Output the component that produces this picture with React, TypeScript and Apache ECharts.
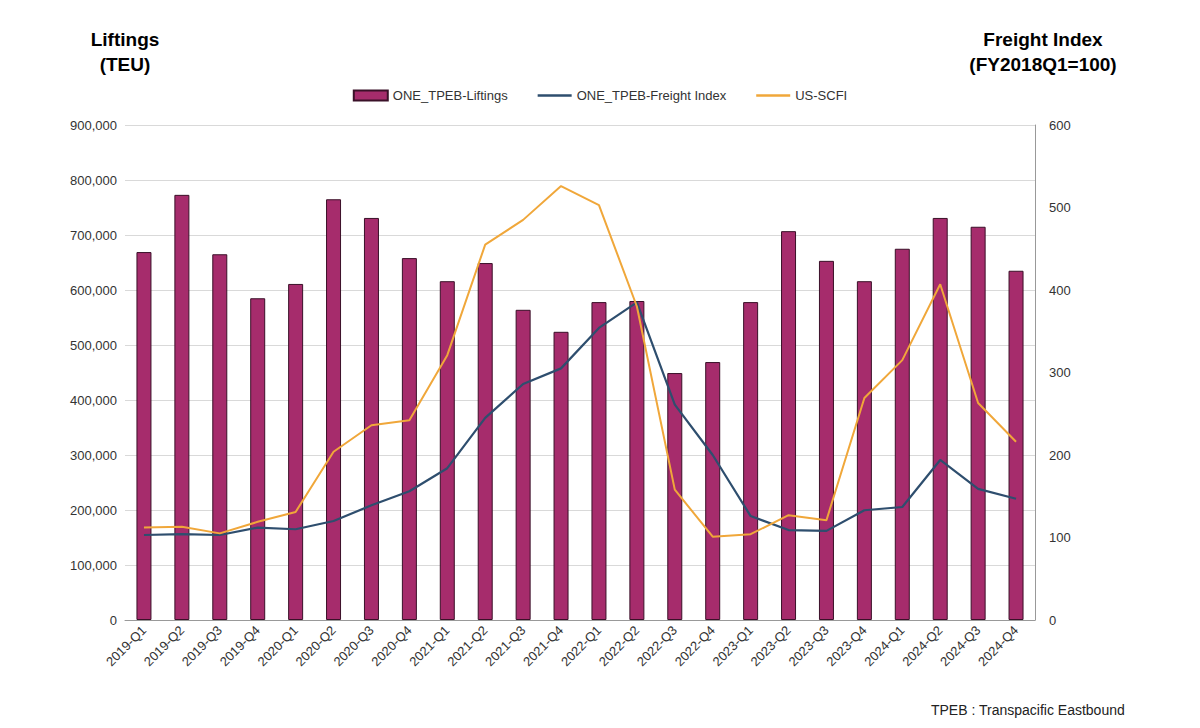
import React, { useEffect, useRef } from 'react';
import * as echarts from 'echarts';

const quarters = [
  '2019-Q1', '2019-Q2', '2019-Q3', '2019-Q4', '2020-Q1', '2020-Q2', '2020-Q3', '2020-Q4',
  '2021-Q1', '2021-Q2', '2021-Q3', '2021-Q4', '2022-Q1', '2022-Q2', '2022-Q3', '2022-Q4',
  '2023-Q1', '2023-Q2', '2023-Q3', '2023-Q4', '2024-Q1', '2024-Q2', '2024-Q3', '2024-Q4',
];
const liftings = [
  669000, 773000, 665000, 585000, 611000, 765000, 731000, 658000,
  616000, 649000, 564000, 524000, 578000, 580000, 449000, 469000,
  578000, 707000, 653000, 616000, 675000, 731000, 715000, 635000,
];
const freightIndex = [
  103, 104, 103, 112, 110, 120, 139, 156, 184, 245, 286, 305,
  354, 385, 261, 200, 126, 109, 108, 133, 137, 194, 159, 147,
];
const scfi = [
  112, 113, 105, 119, 131, 204, 236, 242, 321, 455, 485, 526,
  503, 380, 158, 101, 104, 127, 121, 269, 315, 407, 263, 216,
];

const font = 'Arial, "Liberation Sans", sans-serif';
const lineIcon = 'path://M0,0H40V3H0Z';

export default function App() {
  const ref = useRef<HTMLDivElement>(null);

  useEffect(() => {
    if (!ref.current) return;
    const chart = echarts.init(ref.current, null, { renderer: 'svg' });
    chart.setOption({
      animation: false,
      backgroundColor: '#fff',
      textStyle: { fontFamily: font },
      title: [
        { text: 'Liftings\n(TEU)', left: 120, top: 22, textAlign: 'center',
          textStyle: { fontSize: 19, fontWeight: 'bold', color: '#000', lineHeight: 25 } },
        { text: 'Freight Index\n(FY2018Q1=100)', left: 1038, top: 22, textAlign: 'center',
          textStyle: { fontSize: 19, fontWeight: 'bold', color: '#000', lineHeight: 25 } },
        { text: 'TPEB : Transpacific Eastbound', right: 70, bottom: 6,
          textStyle: { fontSize: 14, fontWeight: 'normal', color: '#222' } },
      ],
      legend: {
        top: 84, left: 'center', itemGap: 30, itemWidth: 34, itemHeight: 10,
        textStyle: { fontSize: 13, color: '#333' },
        data: [
          { name: 'ONE_TPEB-Liftings', icon: 'rect' },
          { name: 'ONE_TPEB-Freight Index', icon: lineIcon, itemStyle: { color: '#2e4e6e' } },
          { name: 'US-SCFI', icon: lineIcon, itemStyle: { color: '#f0a73a' } },
        ],
      },
      grid: { left: 125, right: 165, top: 125, bottom: 108 },
      xAxis: {
        type: 'category', data: quarters,
        axisLine: { lineStyle: { color: '#999' } },
        axisTick: { show: false },
        axisLabel: { rotate: 45, fontSize: 13, color: '#333', interval: 0, margin: 8 },
      },
      yAxis: [
        {
          type: 'value', min: 0, max: 900000, interval: 100000,
          axisLabel: { fontSize: 13, color: '#333', formatter: (v: number) => v.toLocaleString('en-US') },
          splitLine: { lineStyle: { color: '#d9d9d9' } },
          axisLine: { show: false },
        },
        {
          type: 'value', min: 0, max: 600, interval: 100, position: 'right',
          axisLabel: { fontSize: 13, color: '#333', margin: 14 },
          splitLine: { show: false },
          axisLine: { show: true, lineStyle: { color: '#999' } },
        },
      ],
      series: [
        {
          name: 'ONE_TPEB-Liftings', type: 'bar', data: liftings, barWidth: 15,
          itemStyle: { color: '#a62c6c', borderColor: '#3a1028', borderWidth: 1 },
        },
        {
          name: 'ONE_TPEB-Freight Index', type: 'line', yAxisIndex: 1, data: freightIndex,
          symbol: 'none', lineStyle: { color: '#2e4e6e', width: 2.2 }, itemStyle: { color: '#2e4e6e' },
        },
        {
          name: 'US-SCFI', type: 'line', yAxisIndex: 1, data: scfi,
          symbol: 'none', lineStyle: { color: '#f0a73a', width: 2 }, itemStyle: { color: '#f0a73a' },
        },
      ],
    });
    return () => chart.dispose();
  }, []);

  return <div ref={ref} style={{ width: 1200, height: 728, margin: -8 }} />;
}
